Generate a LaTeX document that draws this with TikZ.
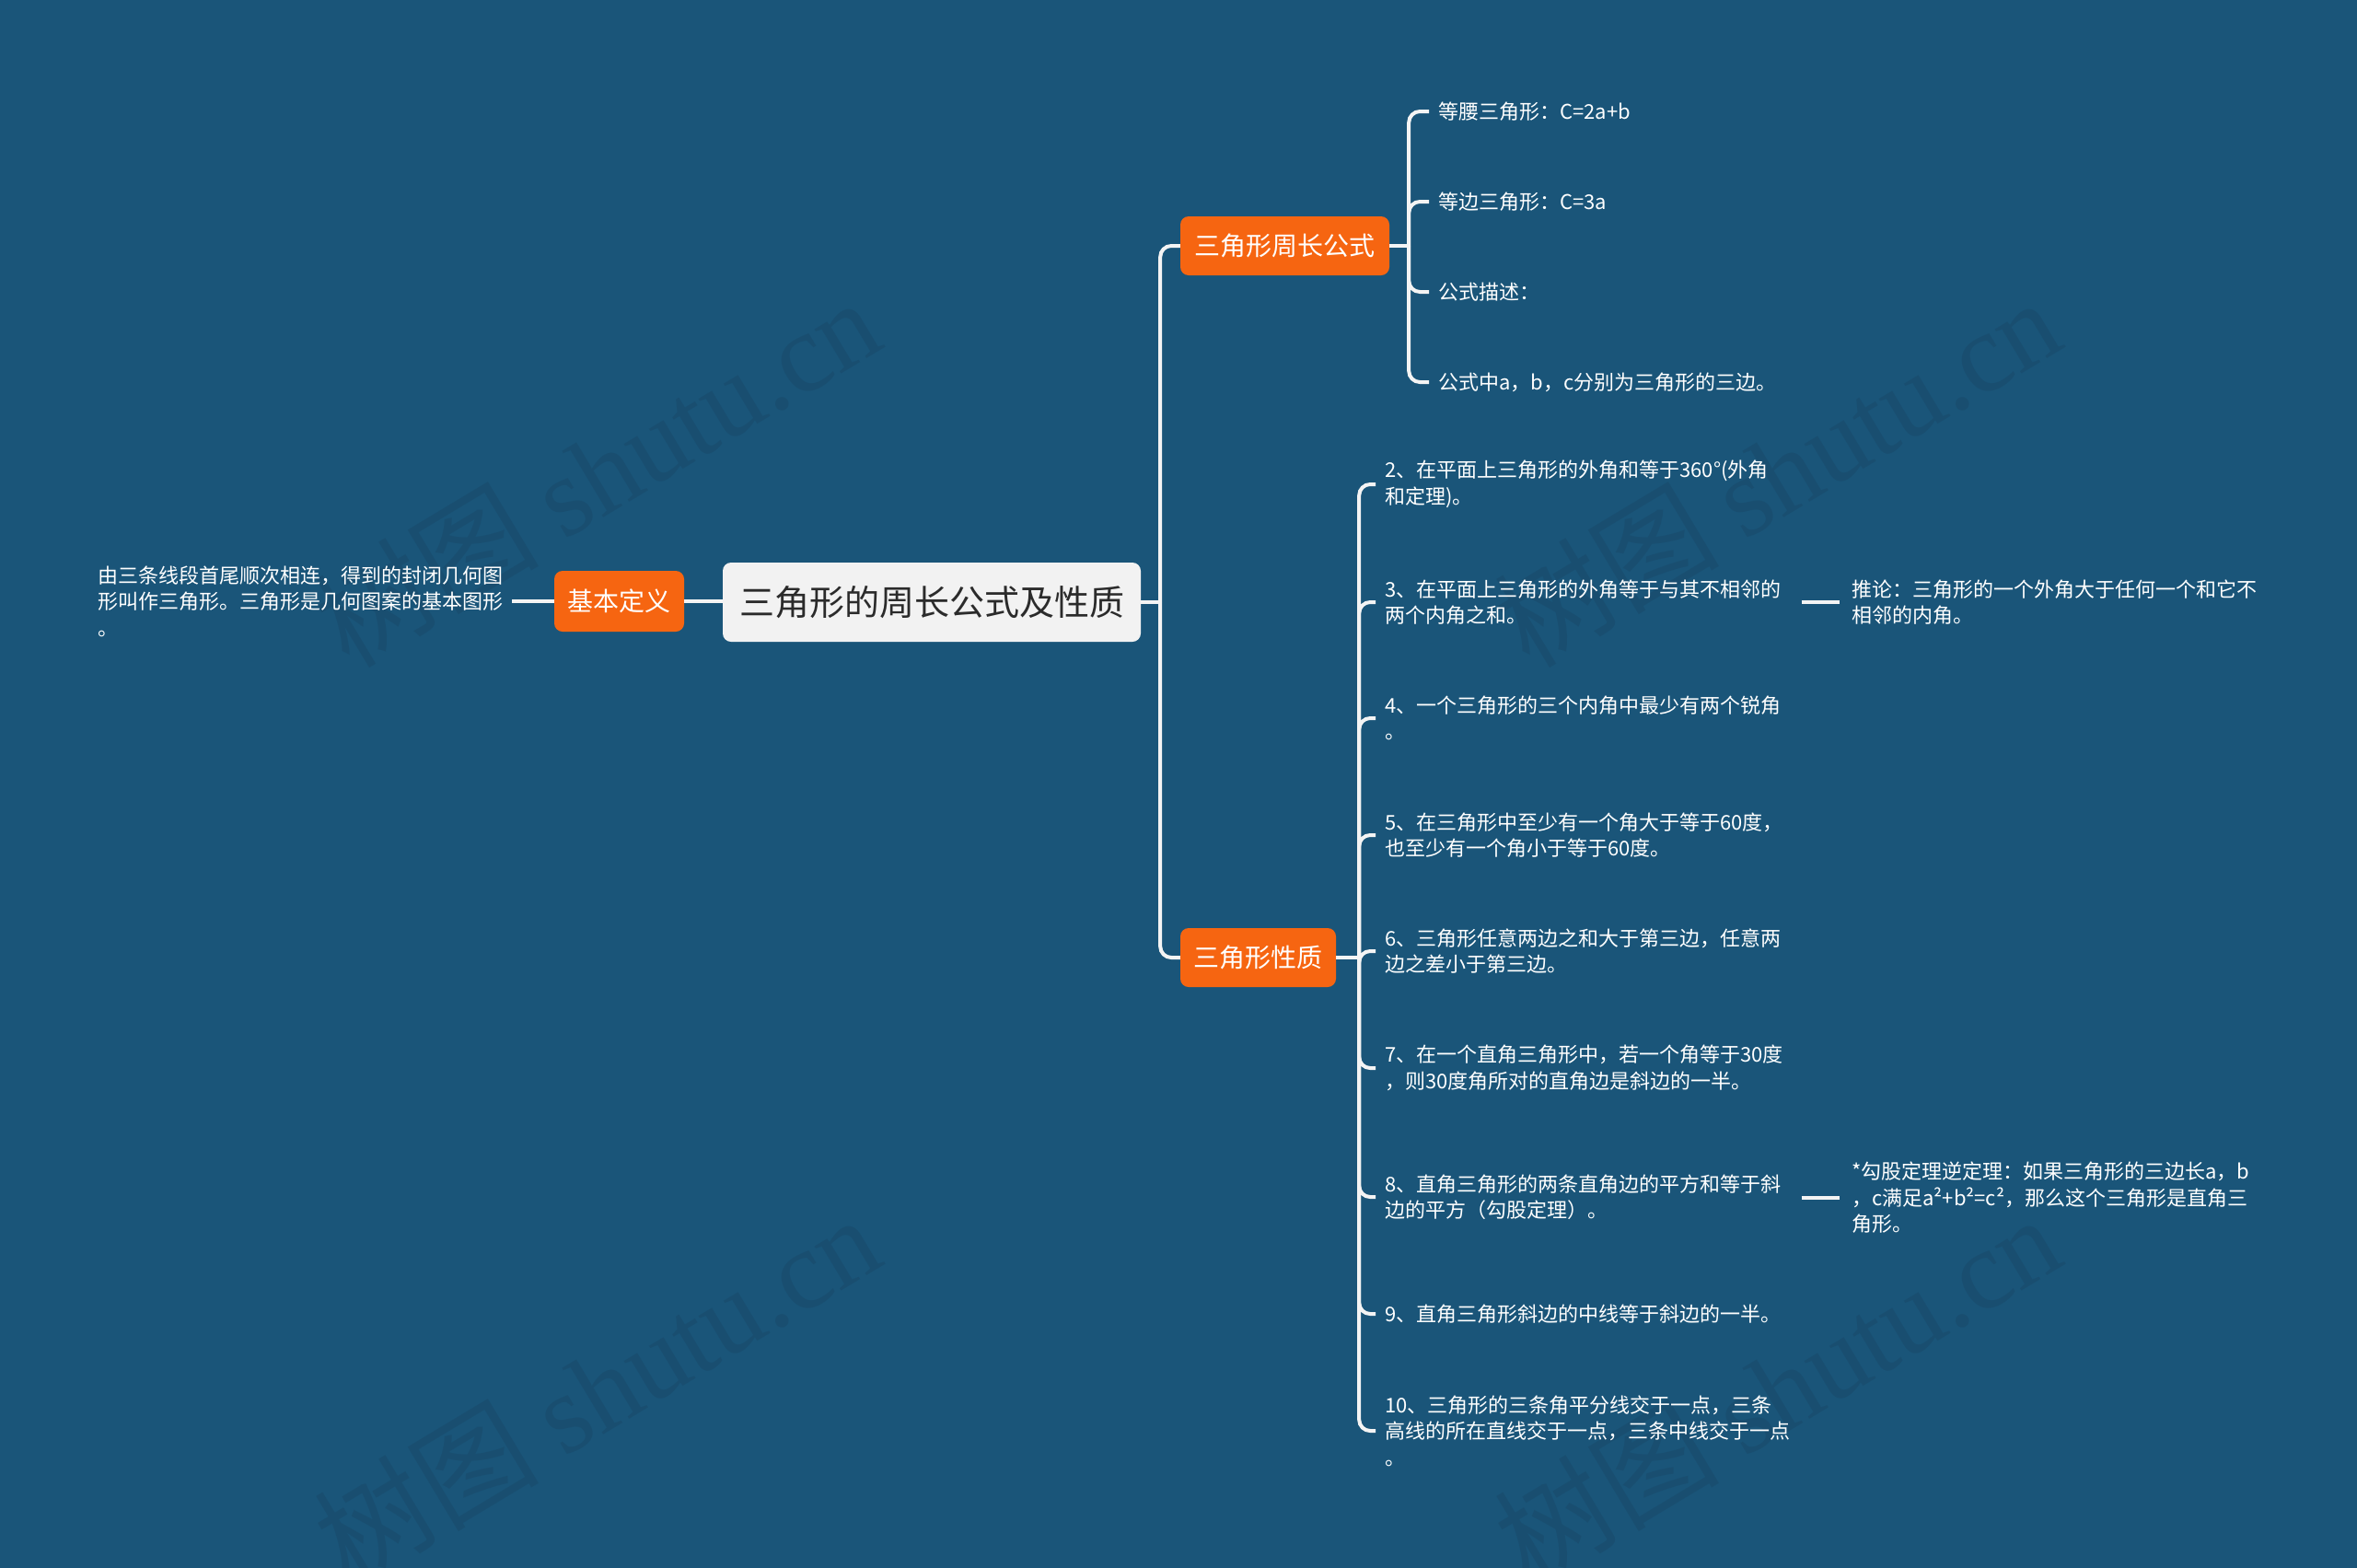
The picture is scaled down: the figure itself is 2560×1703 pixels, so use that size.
\documentclass[tikz,border=0pt]{standalone}
\usepackage{fontspec}
\setmainfont{Noto Sans CJK SC}
\newfontfamily\wmserif{Liberation Serif}
\usetikzlibrary{calc}
\definecolor{bgc}{HTML}{1A5579}
\definecolor{orangec}{HTML}{F66511}
\definecolor{rootfill}{HTML}{F2F2F2}
\definecolor{roottext}{HTML}{2B2B2B}
\definecolor{linec}{HTML}{F4F4F4}
\definecolor{wmc}{HTML}{194E70}
\begin{document}
\begin{tikzpicture}[x=1pt,y=-1pt,
  conn/.style={draw=linec, line width=4pt, rounded corners=12pt},
  rootbox/.style={fill=rootfill, rounded corners=9pt, minimum width=454pt, minimum height=86pt,
    inner sep=0pt, text=roottext, font=\fontsize{38}{44}\selectfont},
  topic/.style={fill=orangec, rounded corners=9pt, minimum height=64pt, inner sep=0pt,
    text=white, font=\fontsize{28}{34}\selectfont},
  leaf/.style={anchor=west, inner xsep=10pt, inner ysep=0pt, align=left, text=white,
    font=\fontsize{22}{28.5}\selectfont},
  wm/.style={text=wmc, rotate=31, font=\fontsize{122}{130}\selectfont}
]
\useasboundingbox (0,0) rectangle (2560,1703);
\fill[bgc] (0,0) rectangle (2560,1703);

% watermarks
\node[wm] (w1) at (648,512) {树图 {\wmserif shutu.cn}};
\node[wm] (w2) at (1930,512) {树图 {\wmserif shutu.cn}};
\node[wm] (w3) at (648,1508) {树图 {\wmserif shutu.cn}};
\node[wm] (w4) at (1930,1508) {树图 {\wmserif shutu.cn}};

% main nodes
\node[rootbox] (root) at (1012,654) {三角形的周长公式及性质};
\node[topic, minimum width=141pt, minimum height=66pt] (def) at (672.5,653) {基本定义};
\node[topic, minimum width=227pt] (per) at (1395.5,267) {三角形周长公式};
\node[topic, minimum width=169pt] (prop) at (1366.5,1040) {三角形性质};

% left leaf
\node[leaf] (dtext) at (96,653) {由三条线段首尾顺次相连，得到的封闭几何图\\形叫作三角形。三角形是几何图案的基本图形\\。};

% perimeter leaves
\node[leaf] (p1) at (1552,121) {等腰三角形：C=2a+b};
\node[leaf] (p2) at (1552,219) {等边三角形：C=3a};
\node[leaf] (p3) at (1552,317) {公式描述：};
\node[leaf] (p4) at (1552,415) {公式中a，b，c分别为三角形的三边。};

% property leaves
\node[leaf] (q2) at (1494,526) {2、在平面上三角形的外角和等于360°(外角\\和定理)。};
\node[leaf] (q3) at (1494,654) {3、在平面上三角形的外角等于与其不相邻的\\两个内角之和。};
\node[leaf] (q4) at (1494,780) {4、一个三角形的三个内角中最少有两个锐角\\。};
\node[leaf] (q5) at (1494,907) {5、在三角形中至少有一个角大于等于60度，\\也至少有一个角小于等于60度。};
\node[leaf] (q6) at (1494,1033) {6、三角形任意两边之和大于第三边，任意两\\边之差小于第三边。};
\node[leaf] (q7) at (1494,1160) {7、在一个直角三角形中，若一个角等于30度\\，则30度角所对的直角边是斜边的一半。};
\node[leaf] (q8) at (1494,1300) {8、直角三角形的两条直角边的平方和等于斜\\边的平方（勾股定理）。};
\node[leaf] (q9) at (1494,1427) {9、直角三角形斜边的中线等于斜边的一半。};
\node[leaf] (q10) at (1494,1554) {10、三角形的三条角平分线交于一点，三条\\高线的所在直线交于一点，三条中线交于一点\\。};

\node[leaf] (r3) at (2001,654) {推论：三角形的一个外角大于任何一个和它不\\相邻的内角。};
\node[leaf] (r8) at (2001,1301) {*勾股定理逆定理：如果三角形的三边长a，b\\，c满足a²+b²=c²，那么这个三角形是直角三\\角形。};

% connectors left
\draw[conn] (def.west -| dtext.east) -- (def.west);
\draw[conn] (def.east) -- (def.east -| root.west);

% root to topics
\path (root.east) ++(21,0) coordinate (s0);
\draw[conn] (root.east) -- (s0);
\draw[conn] (s0) |- (per.west);
\draw[conn] (s0) |- (prop.west);

% perimeter branch
\path (per.east) ++(21,0) coordinate (s1);
\draw[conn] (per.east) -- (s1);
\foreach \c in {p1,p2,p3,p4} { \draw[conn] (s1) |- (\c.west); }

% property branch
\path (prop.east) ++(25,0) coordinate (s2);
\draw[conn] (prop.east) -- (s2);
\foreach \c in {q2,q3,q4,q5,q6,q7,q8,q9,q10} { \draw[conn] (s2) |- (\c.west); }

% sub-leaves
\draw[conn, shorten <=12pt, shorten >=3pt] (r3.west -| q3.east) -- (r3.west);
\draw[conn, shorten <=12pt, shorten >=3pt] (r8.west -| q8.east) -- (r8.west);
\end{tikzpicture}
\end{document}
